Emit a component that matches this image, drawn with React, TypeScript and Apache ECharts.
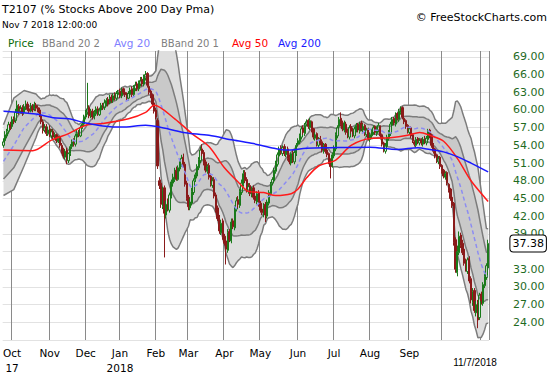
import React, { useEffect, useRef } from 'react';
import * as echarts from 'echarts';

// Daily candles, Sep 25 2017 .. Nov 7 2018 (284 trading days)
const opens = [
  54.0, 54.8, 55.6, 56.4, 57.6, 57.2, 58.6, 58.2, 59.4, 60.6,
  59.8, 60.4, 59.6, 60.4, 61.0, 60.2, 59.8, 60.6, 60.2, 60.8,
  60.4, 60.0, 59.0, 58.0, 56.6, 57.2, 56.0, 56.8, 55.6, 56.4,
  55.2, 55.8, 54.6, 55.4, 54.0, 53.2, 52.0, 53.2, 51.4, 52.6,
  53.8, 54.8, 54.2, 55.4, 56.2, 55.6, 57.2, 57.6, 58.8, 59.6,
  60.4, 59.0, 59.8, 58.8, 59.4, 60.2, 59.2, 60.0, 60.8, 60.4,
  61.0, 61.8, 61.2, 62.2, 61.6, 62.6, 62.0, 62.6, 63.2, 62.4,
  63.6, 63.0, 62.8, 62.0, 62.6, 63.6, 62.6, 63.6, 64.4, 63.6,
  64.4, 65.2, 64.4, 65.4, 66.2, 64.0, 63.2, 62.6, 61.2, 60.0,
  58.2, 48.0, 47.6, 43.6, 46.8, 42.2, 44.4, 43.0, 45.4, 47.6,
  48.2, 49.8, 48.2, 50.0, 50.8, 52.0, 50.8, 47.6, 45.2, 43.4,
  44.2, 46.0, 48.2, 48.8, 50.2, 51.4, 53.4, 52.8, 51.2, 49.6,
  50.6, 48.8, 47.2, 48.2, 45.6, 43.4, 41.8, 39.2, 41.2, 38.6,
  37.8, 36.2, 39.4, 37.8, 41.2, 40.0, 43.2, 44.8, 43.8, 46.0,
  47.4, 49.4, 48.2, 46.2, 47.2, 45.6, 46.8, 45.4, 44.4, 46.0,
  44.2, 43.2, 42.4, 44.0, 42.0, 44.2, 45.8, 47.6, 48.0, 49.6,
  50.8, 52.2, 53.6, 52.6, 53.8, 52.4, 53.4, 52.0, 51.0, 52.8,
  51.2, 52.6, 54.2, 54.6, 55.4, 57.0, 56.0, 57.6, 58.2, 57.0,
  58.0, 56.8, 55.2, 56.0, 54.0, 55.2, 54.6, 53.0, 54.2, 53.2,
  52.6, 51.4, 50.6, 52.2, 53.4, 55.6, 57.2, 58.6, 57.8, 56.6,
  57.6, 56.4, 55.4, 57.2, 56.6, 55.6, 56.6, 57.6, 56.4, 57.8,
  56.6, 57.4, 55.8, 56.8, 55.0, 55.6, 56.2, 57.2, 56.0, 56.6,
  57.2, 55.8, 54.4, 53.0, 53.8, 55.2, 56.0, 57.4, 58.6, 57.6,
  59.4, 58.4, 59.6, 60.4, 58.6, 58.2, 57.4, 56.2, 57.0, 55.8,
  54.6, 54.0, 55.2, 54.4, 55.0, 54.2, 55.2, 54.4, 55.0, 56.6,
  55.8, 54.2, 53.4, 52.4, 51.2, 52.0, 50.6, 49.8, 48.6, 49.4,
  47.4, 46.6, 45.2, 44.2, 38.0, 32.4, 35.8, 38.8, 37.4, 36.4,
  34.4, 32.6, 34.8, 31.4, 27.4, 29.4, 25.6, 27.4, 24.8, 28.8,
  27.2, 30.2, 31.6, 33.2
];
const highs = [
  55.2, 56.4, 56.8, 58.0, 58.0, 58.9, 58.9, 60.2, 61.6, 61.0,
  60.8, 60.8, 61.0, 61.6, 61.4, 60.6, 61.2, 61.0, 61.4, 61.2,
  60.8, 60.4, 59.4, 58.4, 57.6, 57.6, 57.2, 57.4, 56.8, 56.8,
  56.2, 56.0, 55.6, 55.6, 54.4, 53.6, 53.4, 53.6, 52.8, 54.2,
  55.0, 55.2, 56.0, 56.6, 56.6, 57.4, 58.0, 59.2, 60.0, 64.6,
  60.8, 60.2, 60.2, 60.0, 60.6, 60.6, 60.4, 61.2, 61.2, 61.8,
  62.0, 62.2, 62.6, 62.6, 62.8, 63.0, 63.2, 63.4, 63.6, 63.8,
  63.8, 63.4, 63.0, 63.2, 63.8, 64.0, 64.2, 64.8, 64.8, 65.0,
  65.6, 65.6, 66.0, 66.6, 66.4, 64.4, 63.6, 62.8, 61.6, 60.4,
  58.6, 48.6, 48.2, 47.0, 47.2, 44.6, 45.0, 46.0, 48.2, 49.2,
  50.2, 50.4, 50.6, 51.4, 52.4, 52.6, 51.2, 48.0, 45.6, 45.0,
  46.8, 48.4, 49.4, 50.8, 52.0, 53.8, 54.2, 53.2, 51.6, 50.8,
  51.0, 49.2, 48.6, 48.6, 46.0, 43.8, 42.2, 41.4, 41.6, 39.0,
  38.2, 39.8, 39.8, 41.6, 41.6, 43.8, 45.2, 45.4, 46.6, 48.2,
  49.8, 49.8, 48.6, 47.6, 47.6, 47.0, 47.2, 45.8, 46.2, 46.4,
  44.6, 43.6, 44.2, 44.4, 44.8, 46.4, 47.8, 48.6, 50.2, 51.4,
  52.8, 53.8, 54.0, 54.0, 54.2, 53.6, 53.8, 52.4, 52.8, 53.2,
  53.2, 54.4, 55.2, 56.0, 57.2, 57.4, 57.8, 58.4, 58.4, 58.6,
  58.2, 57.0, 56.2, 56.2, 55.4, 55.6, 55.0, 54.4, 54.4, 53.6,
  52.8, 51.8, 52.8, 54.0, 56.2, 57.4, 58.8, 59.6, 58.2, 58.2,
  58.0, 56.8, 57.4, 57.6, 57.0, 57.2, 57.8, 57.8, 58.0, 58.2,
  57.6, 57.6, 57.0, 57.0, 56.2, 56.8, 57.4, 57.4, 57.2, 57.8,
  57.4, 56.0, 54.6, 54.4, 55.8, 56.6, 58.0, 58.8, 58.8, 59.6,
  59.6, 60.2, 60.6, 60.6, 59.0, 58.4, 57.6, 57.2, 57.2, 56.0,
  54.8, 55.4, 55.4, 55.2, 55.2, 55.4, 55.6, 55.6, 56.8, 56.8,
  56.0, 54.4, 53.6, 52.6, 52.2, 52.2, 50.8, 50.0, 49.6, 49.6,
  47.6, 46.8, 45.4, 44.4, 38.4, 37.0, 39.4, 39.2, 38.0, 36.6,
  34.8, 35.0, 35.2, 31.8, 29.8, 29.8, 27.6, 27.8, 29.0, 29.2,
  30.8, 32.2, 34.0, 38.0
];
const lows = [
  53.6, 54.4, 55.2, 56.0, 56.6, 56.8, 57.6, 57.8, 59.0, 59.2,
  59.4, 59.0, 59.2, 60.0, 59.8, 59.4, 59.6, 59.6, 59.8, 59.8,
  59.6, 58.8, 57.6, 56.0, 56.2, 55.6, 55.6, 55.4, 55.2, 55.0,
  55.0, 54.4, 54.4, 53.6, 52.6, 51.8, 51.6, 50.8, 51.0, 52.2,
  53.4, 53.8, 53.8, 55.0, 55.4, 55.4, 56.8, 57.2, 58.4, 59.2,
  58.6, 58.6, 58.4, 58.4, 59.0, 59.0, 59.0, 59.8, 60.0, 60.0,
  60.6, 60.6, 61.0, 61.2, 61.2, 61.6, 61.6, 62.2, 62.0, 62.0,
  62.6, 62.2, 61.6, 61.6, 62.2, 62.2, 62.2, 63.2, 63.2, 63.2,
  64.0, 64.0, 64.0, 65.0, 63.8, 62.6, 62.0, 60.6, 59.4, 58.4,
  50.0, 46.6, 43.4, 43.2, 35.0, 41.6, 42.8, 42.6, 45.0, 47.0,
  47.8, 48.0, 48.0, 49.6, 50.4, 50.2, 47.0, 44.6, 43.0, 43.0,
  43.8, 45.6, 47.8, 48.4, 49.8, 51.0, 52.2, 50.6, 49.4, 49.2,
  48.2, 47.0, 46.8, 45.0, 42.6, 41.2, 39.0, 38.8, 38.0, 37.0,
  33.8, 35.8, 37.6, 37.4, 39.8, 39.6, 42.8, 43.4, 43.4, 45.6,
  47.0, 47.6, 46.0, 45.8, 45.4, 45.2, 44.8, 44.2, 44.0, 43.6,
  42.6, 42.2, 41.8, 41.0, 41.6, 43.8, 45.4, 47.2, 47.6, 49.2,
  50.4, 51.8, 52.4, 52.2, 52.2, 52.0, 51.4, 50.8, 50.6, 51.0,
  50.8, 52.2, 53.8, 54.2, 55.0, 55.8, 55.6, 57.2, 56.8, 56.6,
  56.2, 55.0, 54.8, 53.8, 53.6, 54.0, 52.8, 52.6, 52.6, 52.0,
  50.8, 48.4, 50.2, 51.8, 53.0, 55.2, 56.8, 57.2, 56.4, 56.2,
  55.8, 55.2, 55.0, 56.0, 55.4, 55.2, 56.2, 56.2, 56.0, 56.4,
  56.2, 55.6, 55.4, 54.8, 54.6, 55.2, 55.8, 55.8, 55.6, 56.2,
  55.2, 53.8, 52.8, 52.6, 53.4, 54.8, 55.6, 57.0, 57.4, 57.2,
  58.2, 58.0, 59.2, 58.4, 57.6, 56.8, 56.0, 55.8, 55.2, 54.4,
  53.8, 53.6, 54.2, 54.0, 54.0, 53.8, 54.2, 54.0, 54.6, 55.2,
  53.6, 52.6, 51.8, 51.0, 50.8, 50.0, 49.2, 48.4, 48.2, 47.2,
  46.0, 44.6, 43.4, 37.0, 32.4, 31.8, 35.4, 36.6, 35.4, 33.6,
  32.6, 32.2, 30.6, 27.2, 26.8, 25.6, 25.0, 23.0, 24.4, 27.0,
  26.8, 29.8, 31.2, 33.0
];
const closes = [
  54.6, 55.8, 56.2, 57.5, 57.0, 58.4, 58.0, 59.6, 60.8, 59.7,
  60.2, 59.4, 60.5, 61.0, 60.1, 59.8, 60.6, 60.0, 60.9, 60.3,
  60.0, 59.2, 58.0, 56.5, 57.0, 56.0, 56.6, 55.8, 56.3, 55.4,
  55.8, 54.8, 55.2, 54.0, 53.0, 52.2, 53.0, 51.5, 52.6, 53.8,
  54.6, 54.2, 55.6, 56.0, 55.8, 57.0, 57.6, 58.8, 59.4, 60.2,
  59.0, 59.8, 58.8, 59.6, 60.2, 59.4, 60.0, 60.8, 60.4, 61.2,
  61.6, 61.0, 62.0, 61.6, 62.4, 62.0, 62.8, 63.0, 62.4, 63.4,
  63.0, 62.6, 62.0, 62.8, 63.4, 62.6, 63.8, 64.2, 63.6, 64.6,
  65.0, 64.4, 65.6, 66.0, 64.2, 63.0, 62.4, 61.0, 59.8, 58.8,
  50.5, 47.2, 44.0, 46.4, 42.5, 44.0, 43.2, 45.6, 47.8, 48.6,
  49.5, 48.4, 50.2, 51.0, 51.8, 50.6, 47.4, 45.0, 43.6, 44.4,
  46.2, 48.0, 49.0, 50.4, 51.6, 53.2, 52.6, 51.0, 49.8, 50.4,
  48.6, 47.4, 48.0, 45.4, 43.0, 41.6, 39.5, 40.8, 38.4, 37.4,
  36.4, 39.2, 38.0, 41.0, 40.2, 43.4, 44.6, 44.0, 46.2, 47.6,
  49.2, 48.0, 46.4, 47.0, 45.8, 46.6, 45.2, 44.6, 45.8, 44.0,
  43.0, 42.6, 43.8, 42.2, 44.4, 46.0, 47.4, 48.2, 49.8, 51.0,
  52.4, 53.4, 52.8, 53.6, 52.6, 53.2, 51.8, 51.2, 52.6, 51.4,
  52.8, 54.0, 54.8, 55.6, 56.8, 56.2, 57.4, 58.0, 57.2, 58.2,
  56.6, 55.4, 55.8, 54.2, 55.0, 54.4, 53.2, 54.0, 53.0, 52.4,
  51.2, 50.4, 52.4, 53.6, 55.8, 57.0, 58.4, 57.6, 56.8, 57.8,
  56.2, 55.6, 57.0, 56.4, 55.8, 56.8, 57.4, 56.6, 57.6, 56.8,
  57.2, 56.0, 56.6, 55.2, 55.8, 56.4, 57.0, 56.2, 56.8, 57.4,
  55.6, 54.2, 53.2, 54.0, 55.4, 56.2, 57.6, 58.4, 57.8, 59.2,
  58.6, 59.8, 60.2, 58.8, 58.0, 57.2, 56.4, 56.8, 55.6, 54.8,
  54.2, 55.0, 54.6, 54.8, 54.4, 55.0, 54.6, 55.2, 56.4, 55.6,
  54.0, 53.0, 52.2, 51.4, 51.8, 50.4, 49.6, 48.8, 49.2, 47.6,
  46.4, 45.0, 43.8, 37.5, 33.0, 36.0, 38.6, 37.0, 35.8, 34.0,
  33.2, 34.6, 31.0, 27.8, 29.2, 26.0, 27.0, 24.4, 28.6, 27.6,
  30.4, 31.8, 33.6, 37.38
];

// Month-start day indices and their axis labels
const monthTicks = [5, 27, 48, 68, 89, 108, 129, 150, 172, 193, 214, 237, 256, 279];
const monthLabels = ['Oct\n17', 'Nov', 'Dec', 'Jan\n2018', 'Feb', 'Mar', 'Apr', 'May', 'Jun', 'Jul', 'Aug', 'Sep', '', ''];

// Moving averages: [day index, value]
const avg50Points = [
  [0, 53.2], [17, 53.1], [28, 54.9], [38, 56], [48, 57.4], [58, 57.7], [73, 58.5], [83, 59.6],
  [88, 60.8], [100, 58.5], [110, 56], [120, 53.8], [129, 50.2], [138, 47.5], [143, 46.2],
  [152, 46], [159, 45.5], [168, 45.8], [172, 46.6], [177, 48.5], [184, 50.5], [194, 51.5],
  [203, 54], [215, 55.2], [226, 55.3], [236, 55.7], [243, 56.2], [249, 55.7], [257, 54.7],
  [265, 51.8], [273, 48], [283, 44.5]
];
const avg200Points = [
  [0, 59.8], [19, 59.3], [29, 58.7], [38, 58.5], [48, 57.8], [58, 57.3], [69, 57.1], [83, 57.4],
  [91, 57.1], [105, 56.2], [120, 55.7], [134, 54.9], [146, 54.3], [158, 53.5], [165, 53.2],
  [177, 53.5], [191, 53.6], [214, 53.7], [230, 53.3], [242, 53.6], [249, 53.3], [257, 52.9],
  [265, 52.1], [273, 51], [283, 49.5]
];
// Bollinger values before a full 20-day window exists
const bandWarmIdx = [0, 6, 12];
const upper2Warm = [57.5, 62, 63.3];
const upper1Warm = [54.5, 58, 60.5];
const mid20Warm = [51.3, 54, 57];
const lower1Warm = [48.3, 50.2, 53.5];
const lower2Warm = [45.5, 46.5, 50.5];

const lastPrice = 37.38;
// y tick values hidden in the reference (36.00 sits under the last-price box)
const hiddenTicks = [21, 36, 70];

const FONT = '"DejaVu Sans", Verdana, sans-serif';
const N = 20;

const stats = closes.map((_, i) => {
  if (i < N - 1) return null;
  const w = closes.slice(i - N + 1, i + 1);
  const m = w.reduce((a, b) => a + b, 0) / N;
  const sd = Math.sqrt(w.reduce((a, b) => a + (b - m) * (b - m), 0) / N);
  return { m, sd };
});

function bandLine(warm: number[], k: number): number[][] {
  const pts: number[][] = bandWarmIdx.map((i, j) => [i, warm[j]]);
  stats.forEach((s, i) => {
    if (s) pts.push([i, +(s.m + k * s.sd).toFixed(3)]);
  });
  return pts;
}

export default function App() {
  const ref = useRef<HTMLDivElement>(null);
  useEffect(() => {
    if (!ref.current) return;
    const chart = echarts.init(ref.current, undefined, { renderer: 'svg' });
    const cats = closes.map((_, i) => String(i));
    const tickSet = new Set(monthTicks);
    const labelOf = (i: number) => {
      const k = monthTicks.indexOf(i);
      return k >= 0 ? monthLabels[k] : '';
    };
    const up2 = bandLine(upper2Warm, 2);
    const up1 = bandLine(upper1Warm, 1);
    const mid = bandLine(mid20Warm, 0);
    const lo1 = bandLine(lower1Warm, -1);
    const lo2 = bandLine(lower2Warm, -2);
    const candles = closes.map((c, i) => [opens[i], c, lows[i], highs[i]]);

    const poly = (api: any, upper: number[][], lower: number[][]) => {
      const pts: number[][] = [];
      upper.forEach((p) => pts.push(api.coord(p)));
      for (let k = lower.length - 1; k >= 0; k--) pts.push(api.coord(lower[k]));
      return pts;
    };

    const bandLineSeries = (data: number[][]) => ({
      type: 'line',
      data,
      symbol: 'none',
      silent: true,
      z: 3,
      lineStyle: { color: '#7c7c7c', width: 1.5 },
    });

    chart.setOption({
      animation: false,
      backgroundColor: '#ffffff',
      grid: { left: 0, right: 61, top: 51, bottom: 30 },
      xAxis: {
        type: 'category',
        data: cats,
        boundaryGap: true,
        axisLine: { show: false },
        axisTick: { show: false },
        axisLabel: {
          interval: (i: number) => tickSet.has(i),
          formatter: (_v: string, i: number) => labelOf(i),
          color: '#000',
          fontSize: 10.5,
          fontFamily: FONT,
          lineHeight: 15,
          margin: 5,
        },
        splitLine: {
          show: true,
          interval: (i: number) => tickSet.has(i),
          lineStyle: { color: '#8a8a8a', width: 1 },
        },
      },
      yAxis: {
        type: 'value',
        position: 'right',
        min: 21,
        max: 70,
        interval: 3,
        axisLine: { show: false },
        axisTick: { show: false },
        axisLabel: {
          formatter: (v: number) => (hiddenTicks.indexOf(v) >= 0 ? '' : v.toFixed(2)),
          color: '#1f6b1f',
          fontSize: 11,
          fontFamily: FONT,
          margin: 24,
        },
        splitLine: { show: true, lineStyle: { color: '#e2e2e2', width: 1 } },
      },
      series: [
        {
          type: 'custom',
          silent: true,
          clip: true,
          z: 1,
          data: [[0, 0]],
          encode: { x: 0, y: 1 },
          renderItem: (_p: any, api: any) => ({
            type: 'group',
            children: [
              { type: 'polygon', shape: { points: poly(api, up2, lo2) }, style: { fill: '#dedede' } },
              { type: 'polygon', shape: { points: poly(api, up1, lo1) }, style: { fill: '#c9c9c9' } },
            ],
          }),
        },
        bandLineSeries(up2),
        bandLineSeries(up1),
        bandLineSeries(lo1),
        bandLineSeries(lo2),
        {
          type: 'candlestick',
          data: candles,
          z: 4,
          barWidth: 1.8,
          itemStyle: {
            color: 'rgba(255,255,255,0)',
            color0: '#8a1a1a',
            borderColor: '#1a7a1a',
            borderColor0: '#8a1a1a',
            borderWidth: 1,
          },
          markPoint: {
            symbol: 'rect',
            symbolSize: 0,
            silent: true,
            data: [
              {
                coord: [closes.length - 1, lastPrice],
                value: lastPrice,
                label: {
                  show: true,
                  position: 'inside',
                  offset: [40, 0],
                  formatter: lastPrice.toFixed(2),
                  color: '#000',
                  fontSize: 11,
                  fontFamily: FONT,
                  backgroundColor: '#ffffff',
                  borderColor: '#000000',
                  borderWidth: 1,
                  borderRadius: 3,
                  padding: [2, 2, 2, 2],
                  lineHeight: 12,
                },
              },
            ],
          },
        },
        {
          type: 'line',
          data: mid,
          symbol: 'none',
          silent: true,
          z: 5,
          lineStyle: { color: '#8c8cf2', width: 1.5, type: [4, 3] },
        },
        {
          type: 'line',
          data: avg50Points,
          symbol: 'none',
          smooth: 0.3,
          silent: true,
          z: 6,
          lineStyle: { color: '#ff1a1a', width: 1.5 },
        },
        {
          type: 'line',
          data: avg200Points,
          symbol: 'none',
          smooth: 0.3,
          silent: true,
          z: 6,
          lineStyle: { color: '#1a1aff', width: 1.5 },
        },
      ],
      graphic: [
        { type: 'text', x: 2, y: 9, style: { text: 'T2107 (% Stocks Above 200 Day Pma)', fontSize: 11, fontFamily: FONT, fill: '#000', verticalAlign: 'middle' } },
        { type: 'text', x: 2, y: 25, style: { text: 'Nov 7 2018 12:00:00', fontSize: 9, fontFamily: FONT, fill: '#000', verticalAlign: 'middle' } },
        { type: 'text', x: 547, y: 17, style: { text: '© FreeStockCharts.com', fontSize: 11, fontFamily: FONT, fill: '#000', align: 'right', verticalAlign: 'middle' } },
        { type: 'text', x: 8, y: 43, style: { text: 'Price', fontSize: 10.5, fontFamily: FONT, fill: '#0a6b0a', verticalAlign: 'middle' } },
        { type: 'text', x: 42, y: 43, style: { text: 'BBand 20 2', fontSize: 10, fontFamily: FONT, fill: '#808080', verticalAlign: 'middle' } },
        { type: 'text', x: 114, y: 43, style: { text: 'Avg 20', fontSize: 10.5, fontFamily: FONT, fill: '#8080ff', verticalAlign: 'middle' } },
        { type: 'text', x: 161, y: 43, style: { text: 'BBand 20 1', fontSize: 10, fontFamily: FONT, fill: '#808080', verticalAlign: 'middle' } },
        { type: 'text', x: 232, y: 43, style: { text: 'Avg 50', fontSize: 10.5, fontFamily: FONT, fill: '#ff0000', verticalAlign: 'middle' } },
        { type: 'text', x: 278, y: 43, style: { text: 'Avg 200', fontSize: 10.5, fontFamily: FONT, fill: '#1a1aff', verticalAlign: 'middle' } },
        { type: 'text', x: 475, y: 362, style: { text: '11/7/2018', fontSize: 10, fontFamily: '"Liberation Sans", Arial, sans-serif', fill: '#000', align: 'center', verticalAlign: 'middle' } },
      ],
    });
    return () => chart.dispose();
  }, []);
  return (
    <div
      ref={ref}
      style={{ position: 'fixed', left: 0, top: 0, width: 550, height: 375, background: '#fff' }}
    />
  );
}
